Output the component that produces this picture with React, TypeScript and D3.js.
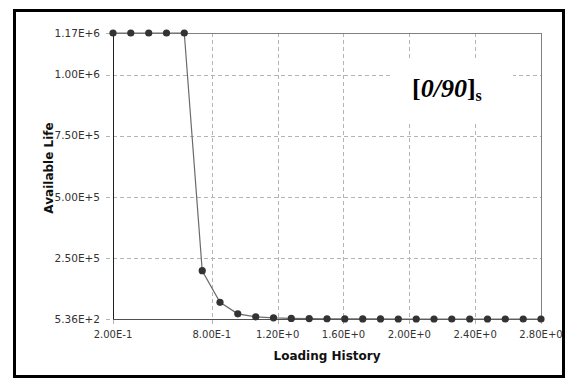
import React from 'react'
import * as d3 from 'd3'

// loading history (x) and available life (y)
const loadingHistory = [
  0.2, 0.308, 0.417, 0.525, 0.633, 0.742, 0.85, 0.958, 1.067, 1.175, 1.283, 1.392, 1.5,
  1.608, 1.717, 1.825, 1.933, 2.042, 2.15, 2.258, 2.367, 2.475, 2.583, 2.692, 2.8,
]
const availableLife = [
  1170000, 1170000, 1170000, 1170000, 1170000, 198000, 68800, 21700, 9400, 5300, 3000, 2200,
  1500, 1000, 800, 700, 600, 600, 560, 550, 540, 540, 536, 536, 536,
]
const xTicks = [0.2, 0.8, 1.2, 1.6, 2.0, 2.4, 2.8]
const xTickLabels = ['2.00E-1', '8.00E-1', '1.20E+0', '1.60E+0', '2.00E+0', '2.40E+0', '2.80E+0']
const yTicks = [536, 250000, 500000, 750000, 1000000, 1170000]
const yTickLabels = ['5.36E+2', '2.50E+5', '5.00E+5', '7.50E+5', '1.00E+6', '1.17E+6']

const width = 568
const height = 379
const margin = { top: 33, right: 27, bottom: 60, left: 113 }
const plotW = width - margin.left - margin.right
const plotH = height - margin.top - margin.bottom

const App = () => {
  const x = d3.scaleLinear().domain([0.2, 2.8]).range([0, plotW])
  const y = d3.scaleLinear().domain([536, 1170000]).range([plotH, 0])

  const points = loadingHistory.map((v, i) => ({ x: v, y: availableLife[i] }))
  const line = d3.line<{ x: number; y: number }>()
    .x(d => x(d.x))
    .y(d => y(d.y))

  const tickFont = '"DejaVu Sans", Verdana, sans-serif'
  const serif = 'Liberation Serif, Times New Roman, DejaVu Serif, serif'

  return (
    <svg width={width} height={height} style={{ position: 'absolute', left: 0, top: 0 }}>
      <rect x={0} y={0} width={width} height={height} fill="#fff" />
      {/* outer frame */}
      <rect x={14.5} y={10.5} width={549} height={366} fill="none" stroke="#000" strokeWidth={3} />

      <g transform={`translate(${margin.left},${margin.top})`}>
        {/* grid */}
        {yTicks.map((t, i) => (
          <line key={'gy' + i} x1={-7} x2={plotW} y1={Math.round(y(t)) + 0.5} y2={Math.round(y(t)) + 0.5}
            stroke="#b4b4b4" strokeDasharray="4,3" />
        ))}
        {xTicks.map((t, i) => (
          <line key={'gx' + i} x1={Math.round(x(t)) + 0.5} x2={Math.round(x(t)) + 0.5} y1={0} y2={plotH + 6}
            stroke="#b4b4b4" strokeDasharray="4,3" />
        ))}

        {/* label box */}
        <rect x={279} y={25} width={121} height={64} fill="#fff" />
        <text x={299} y={64} fontFamily={serif} fontWeight="bold" fontSize={26} fill="#000">
          <tspan>[</tspan>
          <tspan fontStyle="italic">0/90</tspan>
          <tspan>]</tspan>
          <tspan fontSize={16} dy={4}>s</tspan>
        </text>

        {/* frame */}
        <line x1={0} x2={plotW} y1={0.5} y2={0.5} stroke="#808080" />
        <line x1={plotW + 0.5} x2={plotW + 0.5} y1={0} y2={plotH} stroke="#808080" />
        <line x1={0.5} x2={0.5} y1={0} y2={plotH} stroke="#202020" />
        <line x1={0} x2={plotW} y1={plotH + 0.5} y2={plotH + 0.5} stroke="#505050" />

        {/* series */}
        <path d={line(points) || ''} fill="none" stroke="#6a6a6a" strokeWidth={1.2} />
        {points.map((p, i) => (
          <circle key={'p' + i} cx={x(p.x)} cy={y(p.y)} r={3.6} fill="#333" />
        ))}

        {/* y tick labels */}
        {yTicks.map((t, i) => (
          <text key={'ly' + i} x={-13} y={y(t)} dy="0.35em" textAnchor="end"
            fontFamily={tickFont} fontSize={10.5} fill="#333">{yTickLabels[i]}</text>
        ))}
        {/* x tick labels */}
        {xTicks.map((t, i) => (
          <text key={'lx' + i} x={x(t)} y={plotH + 19} textAnchor="middle"
            fontFamily={tickFont} fontSize={10} fill="#333">{xTickLabels[i]}</text>
        ))}

        <text x={plotW / 2} y={plotH + 41} textAnchor="middle" fontFamily={tickFont}
          fontWeight="bold" fontSize={12} fill="#111">Loading History</text>
        <text transform={`translate(${-60},${plotH / 2 - 8}) rotate(-90)`} textAnchor="middle"
          fontFamily={tickFont} fontWeight="bold" fontSize={12} fill="#111">Available Life</text>
      </g>
    </svg>
  )
}

export default App
